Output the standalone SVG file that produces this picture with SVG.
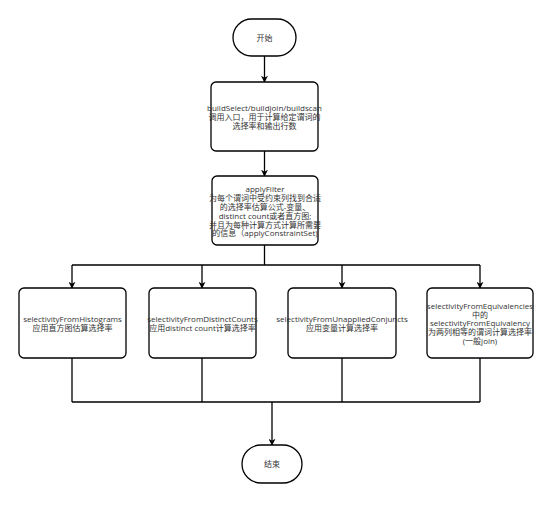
<svg xmlns="http://www.w3.org/2000/svg" width="552" height="507" viewBox="0 0 552 507">
<defs>
<marker id="arr" viewBox="0 0 10 10" refX="9" refY="5" markerWidth="7" markerHeight="7" markerUnits="userSpaceOnUse" orient="auto">
<path d="M0,0 L10,5 L0,10 L3,5 Z" fill="#000"/>
</marker>
<style>
.box{fill:#fff;stroke:#000;stroke-width:1.3}
.ln{fill:none;stroke:#000;stroke-width:1.3}
.t{font-family:"Open Sans","Noto Sans CJK SC",sans-serif;font-size:8px;fill:#333;text-anchor:middle}
</style>
</defs>
<rect width="552" height="507" fill="#fff"/>
<g id="connectors">
<path class="ln" d="M264.5,56 V82" marker-end="url(#arr)"/>
<path class="ln" d="M264.5,151 V176" marker-end="url(#arr)"/>
<path class="ln" d="M264.5,245 V265 M72,265 H480"/>
<path class="ln" d="M72,265 V288" marker-end="url(#arr)"/>
<path class="ln" d="M202,265 V288" marker-end="url(#arr)"/>
<path class="ln" d="M342,265 V288" marker-end="url(#arr)"/>
<path class="ln" d="M480,265 V288" marker-end="url(#arr)"/>
<path class="ln" d="M72,358 V402 M202,358 V402 M342,358 V402 M480,358 V402 M72,402 H480"/>
<path class="ln" d="M272,402 V445" marker-end="url(#arr)"/>
</g>
<g id="start">
<rect class="box" x="233" y="19" width="63" height="37" rx="18.5"/>
<text class="t" x="264.5" y="40.5">开始</text>
</g>
<g id="build">
<rect class="box" x="211" y="82" width="107" height="69" rx="5"/>
<text class="t" x="264.5" y="111">buildSelect/buildjoin/buildscan</text>
<text class="t" x="264.5" y="120">调用入口，用于计算给定谓词的</text>
<text class="t" x="264.5" y="129">选择率和输出行数</text>
</g>
<g id="applyFilter">
<rect class="box" x="212" y="176" width="106" height="69" rx="5"/>
<text class="t" x="265" y="192">applyFilter</text>
<text class="t" x="265" y="201">为每个谓词中受约束列找到合适</text>
<text class="t" x="265" y="210">的选择率估算公式-变量、</text>
<text class="t" x="265" y="219">distinct count或者直方图;</text>
<text class="t" x="265" y="227.5">并且为每种计算方式计算所需要</text>
<text class="t" x="265" y="236">的信息（applyConstraintSet)</text>
</g>
<g id="histograms">
<rect class="box" x="19" y="288" width="107" height="70" rx="5"/>
<text class="t" x="72.5" y="322">selectivityFromHistograms</text>
<text class="t" x="72.5" y="331">应用直方图估算选择率</text>
</g>
<g id="distinct">
<rect class="box" x="149" y="288" width="107" height="70" rx="5"/>
<text class="t" x="202.5" y="322">selectivityFromDistinctCounts</text>
<text class="t" x="202.5" y="331">应用distinct count计算选择率</text>
</g>
<g id="unapplied">
<rect class="box" x="288" y="288" width="108" height="70" rx="5"/>
<text class="t" x="342" y="322">selectivityFromUnappliedConjuncts</text>
<text class="t" x="342" y="331">应用变量计算选择率</text>
</g>
<g id="equiv">
<rect class="box" x="427" y="288" width="106" height="70" rx="5"/>
<text class="t" x="480" y="309">selectivityFromEquivalencies</text>
<text class="t" x="480" y="317.5">中的</text>
<text class="t" x="480" y="326">selectivityFromEquivalency</text>
<text class="t" x="480" y="335">为两列相等的谓词计算选择率</text>
<text class="t" x="480" y="344">(一般join)</text>
</g>
<g id="end">
<rect class="box" x="242" y="445" width="60" height="38" rx="19"/>
<text class="t" x="272" y="467">结束</text>
</g>
</svg>
